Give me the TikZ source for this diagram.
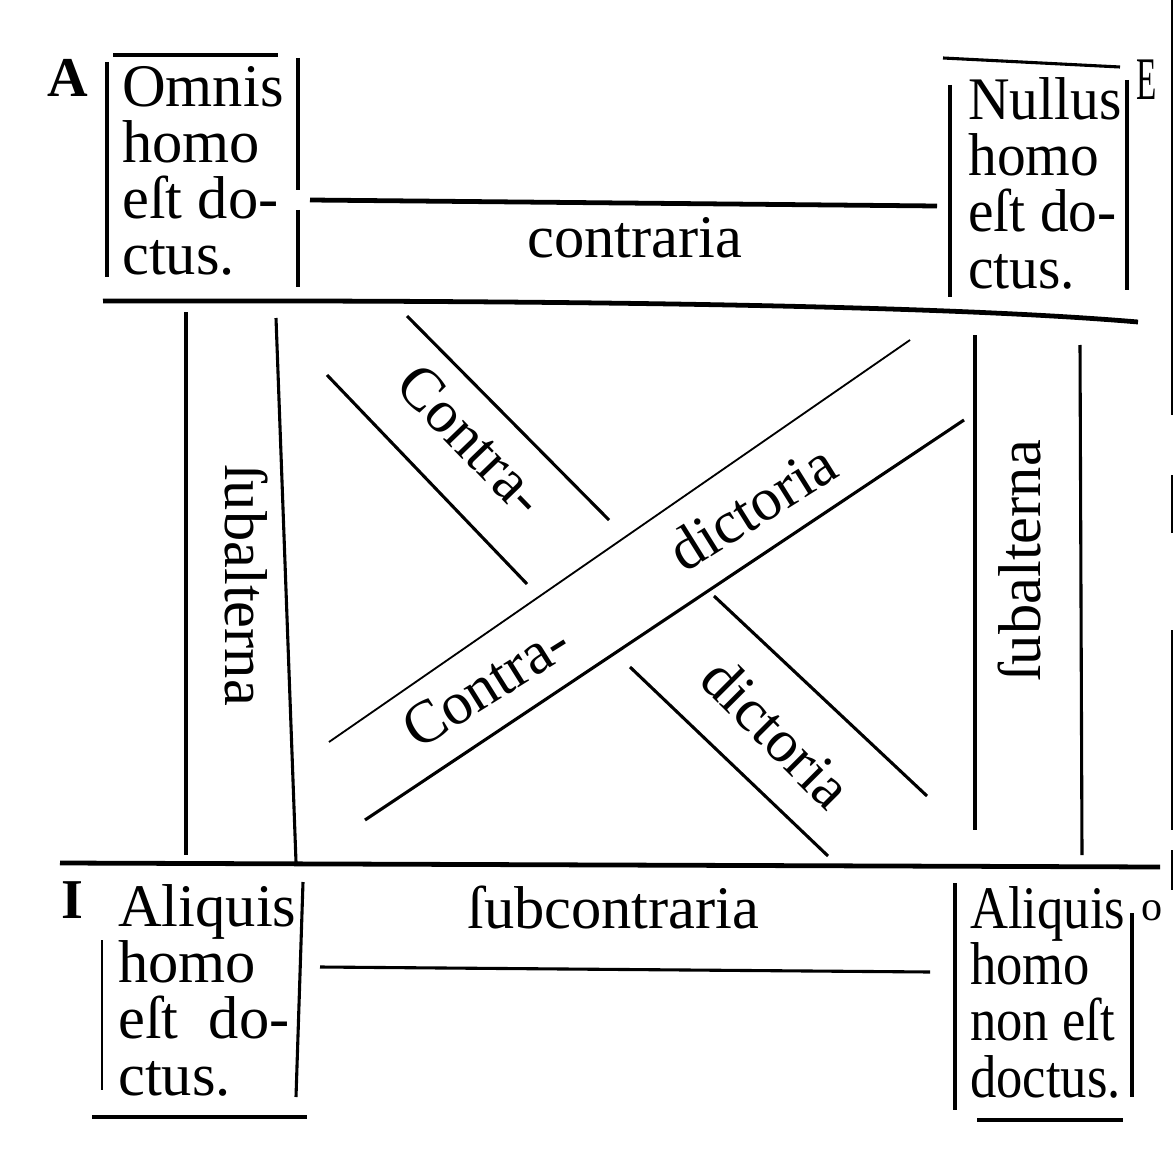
\documentclass[tikz,border=0pt]{standalone}
\usepackage{fontspec}
\setmainfont{Liberation Serif}
\usetikzlibrary{positioning}

\begin{document}
\begin{tikzpicture}[x=0.025cm, y=-0.025cm,
    txt/.style={font=\fontsize{43}{40}\selectfont, inner sep=0pt},
    boxtxt/.style={txt, align=left, anchor=base west},
    letter/.style={font=\fontsize{40}{40}\selectfont\bfseries, inner sep=0pt},
    rule/.style={line width=2.2pt},
    thinrule/.style={line width=1.3pt},
    thickrule/.style={line width=3.4pt}]

    \useasboundingbox (0,0) rectangle (1176,1162);

    \node[letter] (a) at (68,78) {A};
    \node[txt, xscale=0.55] (e) at (1147,80) {E};
    \node[letter] (i) at (72,900) {I};
    \node[font=\fontsize{30}{30}\selectfont, inner sep=0pt] (o) at (1152,911) {o};

    \node[boxtxt] (omnis) at (122,275) {Omnis\\homo\\eſt do-\\ctus.};
    \node[boxtxt, xscale=0.95] (nullus) at (968,288) {Nullus\\homo\\eſt do-\\ctus.};
    \node[boxtxt] (aliquis) at (118,1095) {Aliquis\\homo\\eſt~~do-\\ctus.};
    \node[boxtxt, xscale=0.87] (aliquisnon) at (970,1097) {Aliquis\\homo\\non eſt\\doctus.};

    \node[txt, anchor=base west] (contraria) at (527,258) {contraria};
    \node[txt, anchor=base west] (subcontraria) at (467,928) {ſubcontraria};
    \node[txt, rotate=-90, anchor=base] (subalterna1) at (225,585) {ſubalterna};
    \node[txt, rotate=90, anchor=base] (subalterna2) at (1040,561) {ſubalterna};

    \node[txt, rotate=-46] (contra1) at (472,440) {Contra-};
    \node[txt, rotate=-45] (dictoria1) at (777,733) {dictoria};
    \node[txt, rotate=32] (contra2) at (486,685) {Contra-};
    \node[txt, rotate=32] (dictoria2) at (752,507) {dictoria};

    % boxes A and E
    \draw[rule] (113,55) -- (278,55);
    \draw[rule] (107,62) -- (107,277);
    \draw[rule] (298,58) -- (298,190) (298,210) -- (298,287);
    \draw[rule] (943,58) -- (1120,67);
    \draw[rule] (950,85) -- (950,297);
    \draw[rule] (1127,80) -- (1127,290);
    \draw[thickrule] (310,200) -- (937,206);
    \draw[thickrule] (103,301) .. controls (600,300) and (950,306) .. (1138,322);

    % subalterna
    \draw[rule] (186,312) -- (186,855);
    \draw[rule] (276,318) -- (296,862);
    \draw[rule] (975,335) -- (975,830);
    \draw[rule] (1080,345) -- (1082,855);

    % contradictoria
    \draw[rule] (407,316) -- (609,520) (714,596) -- (927,796);
    \draw[rule] (327,375) -- (527,584) (630,667) -- (828,856);
    \draw[thinrule] (329,742) -- (910,340);
    \draw[rule] (365,820) -- (964,420);

    % boxes I and O
    \draw[thickrule] (60,863) -- (1160,867);
    \draw[thinrule] (102,940) -- (102,1090);
    \draw[rule] (303,882) -- (296,1097);
    \draw[rule] (92,1117) -- (307,1117);
    \draw[rule] (320,967) -- (930,972);
    \draw[rule] (955,883) -- (955,1110);
    \draw[rule] (1132,913) -- (1132,1097);
    \draw[rule] (977,1120) -- (1123,1120);

    \draw[thinrule] (1172,0) -- (1172,415) (1172,475) -- (1172,533)
        (1172,630) -- (1172,830) (1172,850) -- (1172,890);
\end{tikzpicture}
\end{document}
